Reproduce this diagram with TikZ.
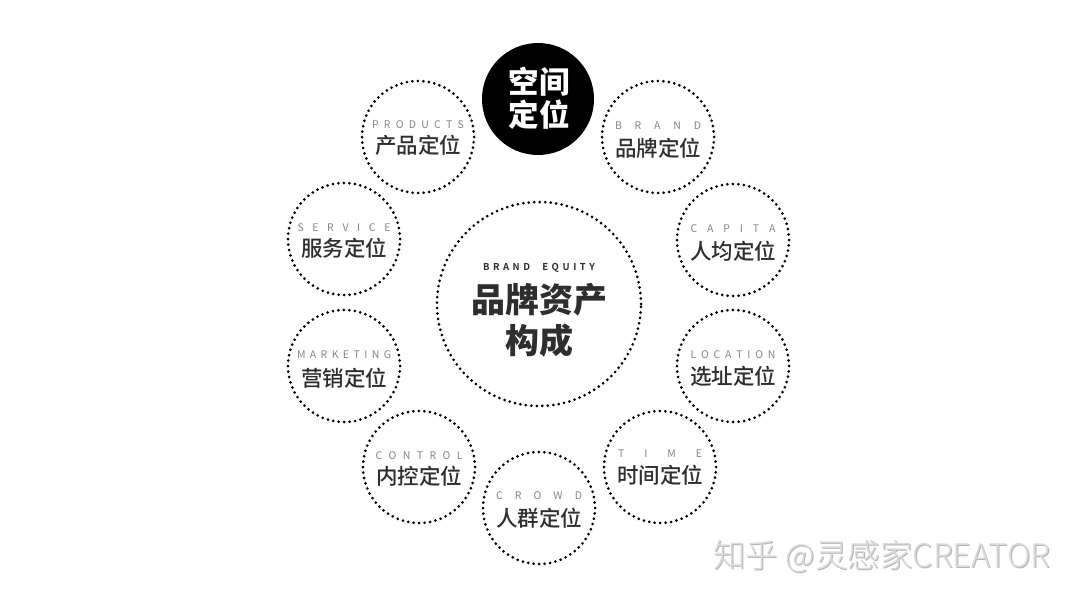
\documentclass[tikz,border=0pt]{standalone}
\usepackage{fontspec}
\usetikzlibrary{calc}
\newfontfamily\cjkblack{Noto Sans CJK SC Black}
\newfontfamily\cjkbold{Noto Sans CJK SC Bold}
\newfontfamily\cjkmed{Noto Sans CJK SC Medium}
\newfontfamily\cjkreg{Noto Sans CJK SC}
\newfontfamily\cjklight{Noto Sans CJK SC Light}
\definecolor{txt}{HTML}{2E2E2E}
\definecolor{lbl}{HTML}{858585}
\definecolor{wm}{HTML}{DADADA}
\definecolor{wmsh}{HTML}{B5B5B5}
\tikzset{
  dotring/.style={circle, draw=black, line width=3pt, dash pattern=on 0pt off 5.5pt, line cap=round, inner sep=0pt},
  outer/.style={dotring, minimum size=112pt},
  en/.style={font=\cjkreg\fontsize{10.5}{11}\selectfont, text=lbl, inner sep=0pt},
  cn/.style={font=\cjkmed\fontsize{21.5}{23}\selectfont, text=txt, inner sep=0pt},
}
\newcommand\spr[2]{\makebox[#1][s]{#2}}
\begin{document}
\begin{tikzpicture}[x=1pt,y=-1pt]
\useasboundingbox (0,0) rectangle (1080,605);
\fill[white] (0,0) rectangle (1080,605);
% center
\node[dotring, minimum size=204pt] (c) at (539,304) {};
\node[font=\cjkbold\fontsize{9.5}{10}\selectfont, text=txt, inner sep=0pt] (ct) at (539,268)
  {\spr{112pt}{B\hfill R\hfill A\hfill N\hfill D\hfill\hspace{5pt}\hfill E\hfill Q\hfill U\hfill I\hfill T\hfill Y}};
\node[font=\cjkblack\fontsize{34}{36}\selectfont, text=txt, inner sep=0pt] (c1) at (539,300) {品牌资产};
\node[font=\cjkblack\fontsize{34}{36}\selectfont, text=txt, inner sep=0pt] (c2) at (539,341) {构成};
% black circle
\node[circle, fill=black, minimum size=112pt, inner sep=0pt] (k) at (538,99) {};
\node[font=\cjkblack\fontsize{30.5}{32}\selectfont, text=white, inner sep=0pt] (k1) at (539,82) {空间};
\node[font=\cjkblack\fontsize{30.5}{32}\selectfont, text=white, inner sep=0pt] (k2) at (539,115) {定位};
% outer circles
\node[outer] (brand) at (658,137) {};
\node[en] (brandE) at ($(brand)+(0,-11)$) {\spr{86pt}{B\hfill R\hfill A\hfill N\hfill D}};
\node[cn] (brandC) at ($(brand)+(0,11)$) {品牌定位};
\node[outer] (capita) at (733,240) {};
\node[en] (capitaE) at ($(capita)+(0,-11)$) {\spr{85pt}{C\hfill A\hfill P\hfill I\hfill T\hfill A}};
\node[cn] (capitaC) at ($(capita)+(0,11)$) {人均定位};
\node[outer] (loc) at (733,366) {};
\node[en] (locE) at ($(loc)+(0,-11)$) {\spr{85pt}{L\hfill O\hfill C\hfill A\hfill T\hfill I\hfill O\hfill N}};
\node[cn] (locC) at ($(loc)+(0,10)$) {选址定位};
\node[outer] (time) at (660,467) {};
\node[en] (timeE) at ($(time)+(0,-13)$) {\spr{84pt}{T\hfill I\hfill M\hfill E}};
\node[cn] (timeC) at ($(time)+(0,8)$) {时间定位};
\node[outer] (crowd) at (539,508) {};
\node[en] (crowdE) at ($(crowd)+(0,-12)$) {\spr{86pt}{C\hfill R\hfill O\hfill W\hfill D}};
\node[cn] (crowdC) at ($(crowd)+(0,10)$) {人群定位};
\node[outer] (ctrl) at (419,467) {};
\node[en] (ctrlE) at ($(ctrl)+(0,-11)$) {\spr{87pt}{C\hfill O\hfill N\hfill T\hfill R\hfill O\hfill L}};
\node[cn] (ctrlC) at ($(ctrl)+(0,9)$) {内控定位};
\node[outer] (mkt) at (344,366) {};
\node[en] (mktE) at ($(mkt)+(0,-11)$) {\spr{94pt}{M\hfill A\hfill R\hfill K\hfill E\hfill T\hfill I\hfill N\hfill G}};
\node[cn] (mktC) at ($(mkt)+(0,12)$) {营销定位};
\node[outer] (svc) at (344,239) {};
\node[en] (svcE) at ($(svc)+(0,-11)$) {\spr{93pt}{S\hfill E\hfill R\hfill V\hfill I\hfill C\hfill E}};
\node[cn] (svcC) at ($(svc)+(0,9)$) {服务定位};
\node[outer] (prod) at (418,137) {};
\node[en] (prodE) at ($(prod)+(0,-12)$) {\spr{92pt}{P\hfill R\hfill O\hfill D\hfill U\hfill C\hfill T\hfill S}};
\node[cn] (prodC) at ($(prod)+(0,8)$) {产品定位};
% watermark
\node[font=\cjklight\fontsize{32.5}{34}\selectfont, text=wmsh, inner sep=0pt] (wms) at (883,558) {知乎 @灵感家CREATOR};
\node[font=\cjklight\fontsize{32.5}{34}\selectfont, text=wm, inner sep=0pt] (wmt) at (882,557) {知乎 @灵感家CREATOR};
\end{tikzpicture}
\end{document}
